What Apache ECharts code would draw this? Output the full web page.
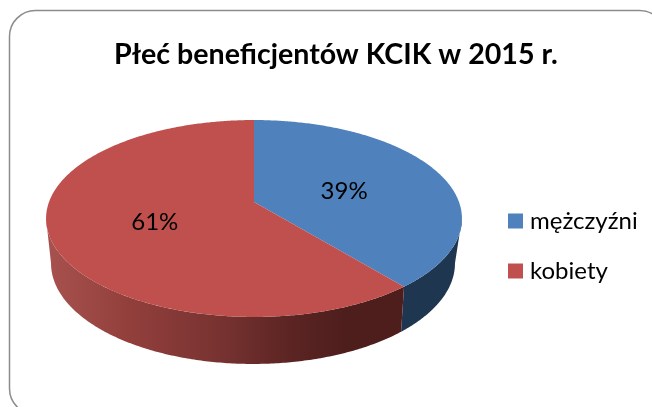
<!DOCTYPE html>
<html><head><meta charset="utf-8">
<style>html,body{margin:0;padding:0;background:#fff}#c{width:652px;height:407px}</style>
<script src="https://cdn.jsdelivr.net/npm/echarts@6/dist/echarts.min.js"></script>
</head><body><div id="c"></div>
<script>
const chartTitle = 'Płeć beneficjentów KCIK w 2015 r.';
const categories = ['mężczyźni', 'kobiety'];
const values = [39, 61];
const colors = ['#4F81BD', '#C0504D'];
const FONT = 'Lato';

const total = values.reduce((a, b) => a + b, 0);
const TAU = Math.PI * 2;
// perspective tilted-disc projection
const top_ = {cx: 254, cy: 202, a: 205, b: 95.7, k: 0.1675};
const bot = {cx: 253, cy: 244.2, a: 198.3, b: 97, k: 0.19};
const labelRadius = [0.48, 0.5];
function proj(p, t, f) {
  f = f === undefined ? 1 : f;
  const w = 1 + p.k * f * Math.cos(t);
  return [p.cx + p.a * f * Math.sin(t) / w, p.cy - p.b * f * Math.cos(t) / w];
}
function arc(p, t0, t1) {
  const n = Math.max(2, Math.ceil(Math.abs(t1 - t0) / 0.01));
  const out = [];
  for (let i = 0; i <= n; i++) out.push(proj(p, t0 + (t1 - t0) * i / n));
  return out;
}
const edgeR = p => Math.acos(-p.k);
const edgeL = p => TAU - Math.acos(-p.k);
const redSide = new echarts.graphic.LinearGradient(46, 0, 461, 0, [
  {offset: 0, color: '#A8524F'},
  {offset: 0.2, color: '#923F3C'},
  {offset: 0.4, color: '#7A3432'},
  {offset: 0.6, color: '#5A2422'},
  {offset: 0.72, color: '#4E1E1D'},
  {offset: 1, color: '#4E1E1D'}
], true);
const sideFill = [ '#1F3650', redSide ];

function renderSlice(params, api) {
  const idx = params.seriesIndex;
  const before = values.slice(0, idx).reduce((a, b) => a + b, 0);
  const t0 = before / total * TAU;
  const t1 = t0 + api.value(0) / total * TAU;
  const children = [];
  const a0 = Math.max(t0, edgeR(top_)), a1 = Math.min(t1, edgeL(top_));
  const b0 = Math.max(t0, edgeR(bot)), b1 = Math.min(t1, edgeL(bot));
  if (a1 > a0) {
    children.push({type: 'polygon', shape: {points: arc(top_, a0, a1).concat(arc(bot, b1, b0))},
      style: {fill: sideFill[idx]}});
  }
  children.push({type: 'polygon', shape: {points: [proj(top_, 0, 0)].concat(arc(top_, t0, t1))},
    style: {fill: colors[idx]}});
  const mid = (t0 + t1) / 2, lp = proj(top_, mid, labelRadius[idx]);
  children.push({type: 'text', style: {x: lp[0], y: lp[1] + 4, text: Math.round(api.value(0)) + '%',
    fill: '#000', font: '24px ' + FONT, textAlign: 'center', textVerticalAlign: 'middle'}});
  return {type: 'group', children};
}

const chart = echarts.init(document.getElementById('c'), null, {renderer: 'canvas'});
chart.setOption({
  animation: false,
  backgroundColor: '#fff',
  title: {text: chartTitle, left: 109, top: 35,
    textStyle: {fontFamily: FONT, fontWeight: 'bold', fontSize: 28.6, color: '#000'}},
  legend: {orient: 'vertical', left: 508, top: 209, padding: 0, icon: 'rect', itemWidth: 15, itemHeight: 15, itemGap: 26,
    data: categories, textStyle: {fontFamily: FONT, fontSize: 24, color: '#000', padding: [0, 0, 0, 2]}},
  graphic: [{type: 'rect', silent: true, z: -1,
    shape: {x: 9.5, y: 10.5, width: 656, height: 404, r: 26},
    style: {fill: '#fff', stroke: '#8C8C8C', lineWidth: 1.5}}],
  series: categories.map((name, i) => ({
    type: 'custom', name, coordinateSystem: 'none', renderItem: renderSlice,
    itemStyle: {color: colors[i]}, data: [[values[i]]], silent: true
  }))
});
</script></body></html>
